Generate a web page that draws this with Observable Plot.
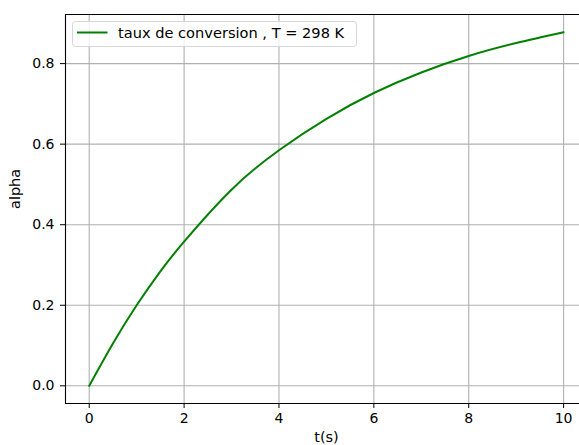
<!DOCTYPE html>
<html><head><meta charset="utf-8">
<script src="https://cdn.jsdelivr.net/npm/d3@7"></script>
<script src="https://cdn.jsdelivr.net/npm/@observablehq/plot@0.6"></script>
<style>html,body{margin:0;padding:0;background:#fff}#chart svg{display:block}</style>
</head><body><div id="chart"></div>
<script>
const times = [0, 0.5, 1, 1.5, 2, 3, 4, 5, 6, 7, 8, 9, 10];
const alpha = [0, 0.105, 0.200, 0.284, 0.358, 0.487, 0.585, 0.663, 0.727, 0.778, 0.819, 0.851, 0.878];
const xTicks = [0, 2, 4, 6, 8, 10];
const yTicks = [0, 0.2, 0.4, 0.6, 0.8];
const seriesLabel = "taux de conversion , T = 298 K";
const xLabel = "t(s)";
const yLabel = "alpha";

const data = times.map((t, i) => ({t, a: alpha[i]}));
const font = "'DejaVu Sans', sans-serif";
const grid = {stroke: "#b0b0b0", strokeOpacity: 1, strokeWidth: 1.1};

const chart = Plot.plot({
  width: 579, height: 445,
  marginLeft: 65, marginRight: 0, marginTop: 14, marginBottom: 42,
  style: {fontFamily: font, fontSize: "14px", color: "#000", background: "#fff"},
  x: {domain: [-0.5, 10.335]},
  y: {domain: [-0.0439, 0.9219]},
  marks: [
    Plot.gridX(xTicks, grid),
    Plot.gridY(yTicks, grid),
    Plot.line(data, {x: "t", y: "a", stroke: "#008000", strokeWidth: 2, curve: "natural"}),
    Plot.axisX(xTicks, {tickSize: 5, tickPadding: 5, label: null, tickFormat: d => String(d), fontSize: 14}),
    Plot.axisY(yTicks, {tickSize: 5, tickPadding: 6, label: null, tickFormat: d3.format(".1f"), fontSize: 14}),
    Plot.ruleX([-0.5], {stroke: "#000", strokeWidth: 1.1}),
    Plot.ruleY([-0.0439, 0.9219], {stroke: "#000", strokeWidth: 1.1}),
    Plot.text([xLabel], {frameAnchor: "bottom", dy: 38, dx: 4, fontSize: 14.5}),
    Plot.text([yLabel], {frameAnchor: "left", rotate: -90, dx: -50, fontSize: 14.5})
  ]
});
document.getElementById("chart").appendChild(chart);

// legend inside the axes (upper left)
const svg = d3.select(chart);
const lg = svg.append("g").attr("font-family", font).attr("font-size", 14.6).attr("text-anchor", "start");
lg.append("rect").attr("x", 72.5).attr("y", 21.5).attr("width", 284).attr("height", 25)
  .attr("rx", 3).attr("fill", "#fff").attr("fill-opacity", 0.8).attr("stroke", "#d6d6d6");
lg.append("line").attr("x1", 77).attr("x2", 107.5).attr("y1", 32.5).attr("y2", 32.5)
  .attr("stroke", "#008000").attr("stroke-width", 2);
lg.append("text").attr("x", 118).attr("y", 37.7).attr("text-anchor", "start").attr("fill", "#000").text(seriesLabel);
</script>
</body></html>
